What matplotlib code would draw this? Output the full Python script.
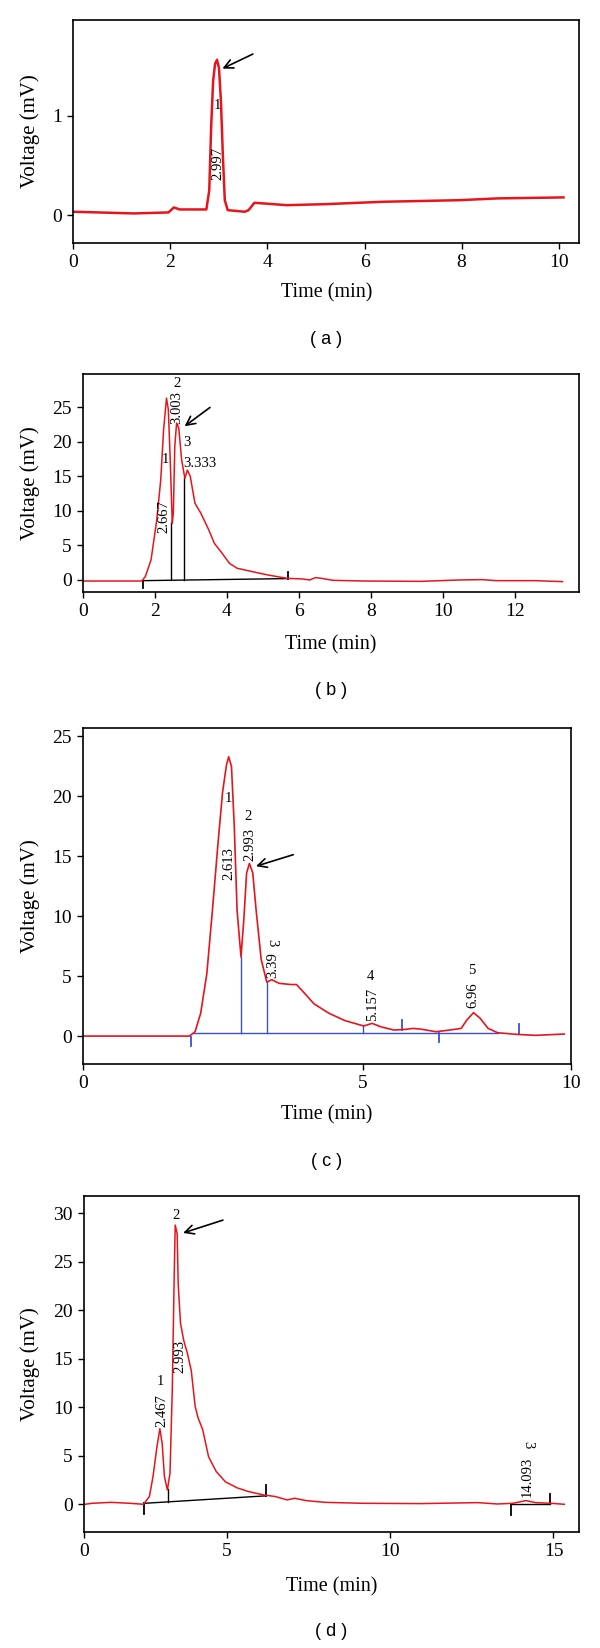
import numpy as np
import matplotlib
matplotlib.use("Agg")
import matplotlib.pyplot as plt

# Four HPLC chromatograms stacked vertically, (a)-(d)

SERIF = ['Liberation Serif', 'DejaVu Serif']
SANS = ['Liberation Sans', 'DejaVu Sans']
RED = '#e8141c'
BLUE = '#3a4fd8'

# ---------------- (a) ----------------
A_T = [0.0, 1.25, 1.96, 2.07, 2.19, 2.74, 2.80, 2.84, 2.88, 2.92, 2.96, 3.0,
       3.04, 3.08, 3.12, 3.18, 3.53, 3.61, 3.73, 3.93, 4.4, 5.19, 6.37, 7.95,
       8.74, 10.1]
A_V = [0.034, 0.017, 0.027, 0.077, 0.057, 0.057, 0.25, 0.9, 1.35, 1.52, 1.56,
       1.48, 1.15, 0.6, 0.15, 0.05, 0.034, 0.05, 0.124, 0.117, 0.10, 0.11,
       0.134, 0.15, 0.168, 0.178]
A_LABELS = [('1', 2.96, 1.10, 0), ('2.997', 2.98, 0.52, 90)]
A_ARROW = (3.75, 1.63, 3.02, 1.46)

# ---------------- (b) ----------------
B_T = [0.0, 1.63, 1.73, 1.89, 2.05, 2.16, 2.24, 2.32, 2.37, 2.42, 2.48, 2.51,
       2.55, 2.60, 2.66, 2.74, 2.83, 2.90, 2.98, 3.11, 3.27, 3.49, 3.65, 3.86,
       4.07, 4.28, 4.71, 5.13, 5.66, 6.09, 6.30, 6.46, 6.62, 6.94, 7.79, 9.38,
       10.45, 11.08, 11.5, 12.57, 13.32]
B_V = [-0.15, -0.15, 0.48, 2.9, 8.7, 14.5, 21.8, 26.3, 24.7, 17.9, 8.2, 9.7,
       19.3, 22.7, 22.0, 17.4, 14.7, 15.9, 15.0, 11.1, 9.7, 7.3, 5.3, 3.9, 2.4,
       1.7, 1.2, 0.73, 0.24, 0.15, 0.0, 0.34, 0.24, -0.05, -0.15, -0.2, 0.0,
       0.05, -0.1, -0.1, -0.24]
B_BASE_T = [1.66, 5.69]
B_BASE_V = [-0.1, 0.2]
B_DROP_T = [2.44, 2.81]
B_DROP_V = [8.2, 14.7]
B_TICK_T = [1.66, 5.69]
B_TICK_V0 = [-0.1, 0.2]
B_TICK_V1 = [-1.1, 1.1]
B_LABELS = [('1', 2.29, 17.5, 0), ('2.667', 2.26, 9.2, 90), ('2', 2.60, 28.4, 0),
            ('3.003', 2.61, 24.9, 90), ('3', 2.90, 19.9, 0), ('3.333', 3.25, 16.8, 0)]
B_ARROW = (3.59, 25.2, 2.76, 22.0)

# ---------------- (c) ----------------
C_T = [0.0, 1.90, 2.0, 2.10, 2.21, 2.31, 2.41, 2.49, 2.56, 2.60, 2.65, 2.70,
       2.75, 2.82, 2.87, 2.92, 2.97, 3.03, 3.09, 3.18, 3.28, 3.37, 3.50, 3.71,
       3.81, 3.91, 4.12, 4.39, 4.67, 5.01, 5.16, 5.31, 5.55, 5.76, 5.89, 6.03,
       6.30, 6.54, 6.75, 6.85, 6.97, 7.09, 7.23, 7.40, 7.74, 8.08, 8.59]
C_V = [0.0, 0.0, 0.36, 1.9, 5.2, 10.5, 16.1, 20.3, 22.6, 23.3, 22.5, 17.5,
       10.5, 6.6, 9.7, 13.6, 14.4, 13.6, 10.5, 6.4, 4.5, 4.7, 4.4, 4.3, 4.3,
       3.8, 2.7, 1.9, 1.3, 0.84, 1.06, 0.78, 0.5, 0.56, 0.64, 0.58, 0.36, 0.5,
       0.64, 1.34, 1.95, 1.48, 0.64, 0.28, 0.14, 0.06, 0.17]
C_BASE_T = [1.99, 7.40]
C_BASE_V = [0.28, 0.28]
C_DROP_T = [2.82, 3.28, 4.99]
C_DROP_V = [6.6, 4.5, 0.84]
C_TICK_T = [1.92, 5.69, 6.36, 7.79]
C_TICK_V0 = [-0.1, 0.5, 0.22, 0.17]
C_TICK_V1 = [-0.8, 1.34, -0.47, 0.97]
C_LABELS = [('1', 2.60, 19.8, 0), ('2.613', 2.60, 14.4, 90), ('2', 2.94, 18.3, 0),
            ('2.993', 2.97, 16.0, 90), ('3', 3.37, 7.8, -90), ('3.39', 3.38, 5.9, 90),
            ('4', 5.13, 5.0, 0), ('5.157', 5.16, 2.6, 90), ('5', 6.94, 5.5, 0),
            ('6.96', 6.95, 3.4, 90)]
C_ARROW = (3.80, 15.2, 3.04, 14.1)

# ---------------- (d) ----------------
D_T = [0.67, 0.88, 1.47, 2.05, 2.46, 2.64, 2.75, 2.87, 2.96, 3.03, 3.10, 3.19,
       3.27, 3.34, 3.40, 3.43, 3.49, 3.52, 3.59, 3.69, 3.80, 3.92, 4.04, 4.13,
       4.27, 4.45, 4.68, 4.97, 5.15, 5.32, 5.68, 6.14, 6.49, 6.85, 7.08, 7.43,
       8.01, 9.18, 10.94, 12.69, 13.28, 13.75, 14.16, 14.45, 14.92, 15.33]
D_V = [0.0, 0.1, 0.2, 0.1, 0.0, 0.8, 2.85, 5.9, 7.8, 6.3, 2.85, 1.48, 3.2,
       11.8, 23.8, 28.8, 27.9, 22.8, 18.7, 16.9, 15.6, 13.8, 10.1, 8.9, 7.7,
       4.9, 3.4, 2.3, 2.0, 1.7, 1.3, 0.96, 0.8, 0.45, 0.62, 0.38, 0.2, 0.1,
       0.07, 0.17, 0.03, 0.1, 0.38, 0.17, 0.1, 0.0]
D_BASE_T = [[2.49, 6.2], [13.69, 14.88]]
D_BASE_V = [[0.1, 0.87], [0.0, 0.0]]
D_DROP_T = [3.2]
D_DROP_V = [1.57]
D_TICK_T = [2.49, 6.2, 13.69, 14.88]
D_TICK_V0 = [0.1, 0.87, 0.0, 0.0]
D_TICK_V1 = [-1.0, 1.97, -1.1, 1.06]
D_LABELS = [('1', 2.99, 12.7, 0), ('2.467', 3.01, 9.7, 90), ('2', 3.45, 29.8, 0),
            ('2.993', 3.57, 15.3, 90), ('3', 14.21, 6.1, -90), ('14.093', 14.19, 2.85, 90)]
D_ARROW = (4.97, 29.4, 3.59, 27.9)

W, H = 600, 1648
fig = plt.figure(figsize=(W / 100, H / 100), dpi=100)


def add_ax(l, t, r, b):
    return fig.add_axes([l / W, 1 - b / H, (r - l) / W, (b - t) / H])


def style(ax, xlim, ylim, xticks, xticklabels, yticks):
    ax.set_xlim(*xlim)
    ax.set_ylim(*ylim)
    ax.set_xticks(xticks)
    ax.set_xticklabels(xticklabels)
    ax.set_yticks(yticks)
    ax.set_yticklabels([f"{y:g}" for y in yticks])
    for lab in ax.get_xticklabels() + ax.get_yticklabels():
        lab.set_family(SERIF)
        lab.set_fontsize(14)
    ax.tick_params(direction='out', length=4, width=1, pad=4)
    for s in ax.spines.values():
        s.set_linewidth(1.2)


def labels(ax, items, arrow):
    for txt, t, v, rot in items:
        ax.text(t, v, txt, rotation=rot, ha='center', va='center',
                fontsize=10.5, family=SERIF, zorder=5)
    t0, v0, t1, v1 = arrow
    ax.annotate('', xy=(t1, v1), xytext=(t0, v0),
                arrowprops=dict(arrowstyle='->', lw=1.2, color='black',
                                mutation_scale=16))


def integration(ax, base_t, base_v, drop_t, drop_v, tick_t, tick_v0, tick_v1, color):
    for bt, bv in zip(base_t, base_v):
        ax.plot(bt, bv, color=color, lw=1.0, zorder=1)
    all_t = [t for seg in base_t for t in seg]
    all_v = [v for seg in base_v for v in seg]
    for t, v in zip(drop_t, drop_v):
        ax.plot([t, t], [np.interp(t, all_t, all_v), v], color=color, lw=1.0, zorder=1)
    for t, v0, v1 in zip(tick_t, tick_v0, tick_v1):
        ax.plot([t, t], [v0, v1], color=color, lw=1.3, zorder=1)


def frame_text(ax_box, panel, time_y):
    l, t, r, b = ax_box
    cx = (l + r) / 2 / W
    fig.text(cx, 1 - time_y / H, 'Time (min)', ha='center', va='center',
             fontsize=14.5, family=SERIF)
    fig.text(30.6 / W, 1 - (t + b) / 2 / H, 'Voltage (mV)', rotation=90,
             ha='center', va='center', fontsize=15, family=SERIF)
    fig.text(cx, 1 - panel[1] / H, panel[0], ha='center', va='center',
             fontsize=13, family=SANS)


# (a)
box = (73.4, 20, 579, 243)
ax = add_ax(*box)
ax.plot(A_T, A_V, color=RED, lw=1.8, zorder=2)
style(ax, (0, 10.42), (-0.28, 1.96), [0, 2, 4, 6, 8, 10],
      ['0', '2', '4', '6', '8', '10'], [0, 1])
labels(ax, A_LABELS, A_ARROW)
frame_text(box, ('( a )', 339), 293)

# (b)
box = (83, 374, 578.6, 592)
ax = add_ax(*box)
integration(ax, [B_BASE_T], [B_BASE_V], B_DROP_T, B_DROP_V,
            B_TICK_T, B_TICK_V0, B_TICK_V1, 'black')
ax.plot(B_T, B_V, color=RED, lw=1.1, zorder=2)
style(ax, (0, 13.77), (-1.74, 29.8), list(range(0, 13, 2)),
      [str(x) for x in range(0, 13, 2)], [0, 5, 10, 15, 20, 25])
labels(ax, B_LABELS, B_ARROW)
frame_text(box, ('( b )', 691), 645)

# (c)
box = (83, 728, 571, 1064)
ax = add_ax(*box)
integration(ax, [C_BASE_T], [C_BASE_V], C_DROP_T, C_DROP_V,
            C_TICK_T, C_TICK_V0, C_TICK_V1, BLUE)
ax.plot(C_T, C_V, color=RED, lw=1.2, zorder=2)
style(ax, (0, 8.71), (-2.33, 25.7), [0, 5, 8.71], ['0', '5', '10'],
      [0, 5, 10, 15, 20, 25])
labels(ax, C_LABELS, C_ARROW)
frame_text(box, ('( c )', 1161), 1115)

# (d)
box = (84, 1196, 579, 1532)
ax = add_ax(*box)
integration(ax, D_BASE_T, D_BASE_V, D_DROP_T, D_DROP_V,
            D_TICK_T, D_TICK_V0, D_TICK_V1, 'black')
ax.plot(D_T, D_V, color=RED, lw=1.1, zorder=2)
style(ax, (0.64, 15.78), (-2.86, 31.8), [0.64, 5, 10, 15],
      ['0', '5', '10', '15'], [0, 5, 10, 15, 20, 25, 30])
labels(ax, D_LABELS, D_ARROW)
frame_text(box, ('( d )', 1632), 1587)

fig.savefig('out.png', dpi=100)
